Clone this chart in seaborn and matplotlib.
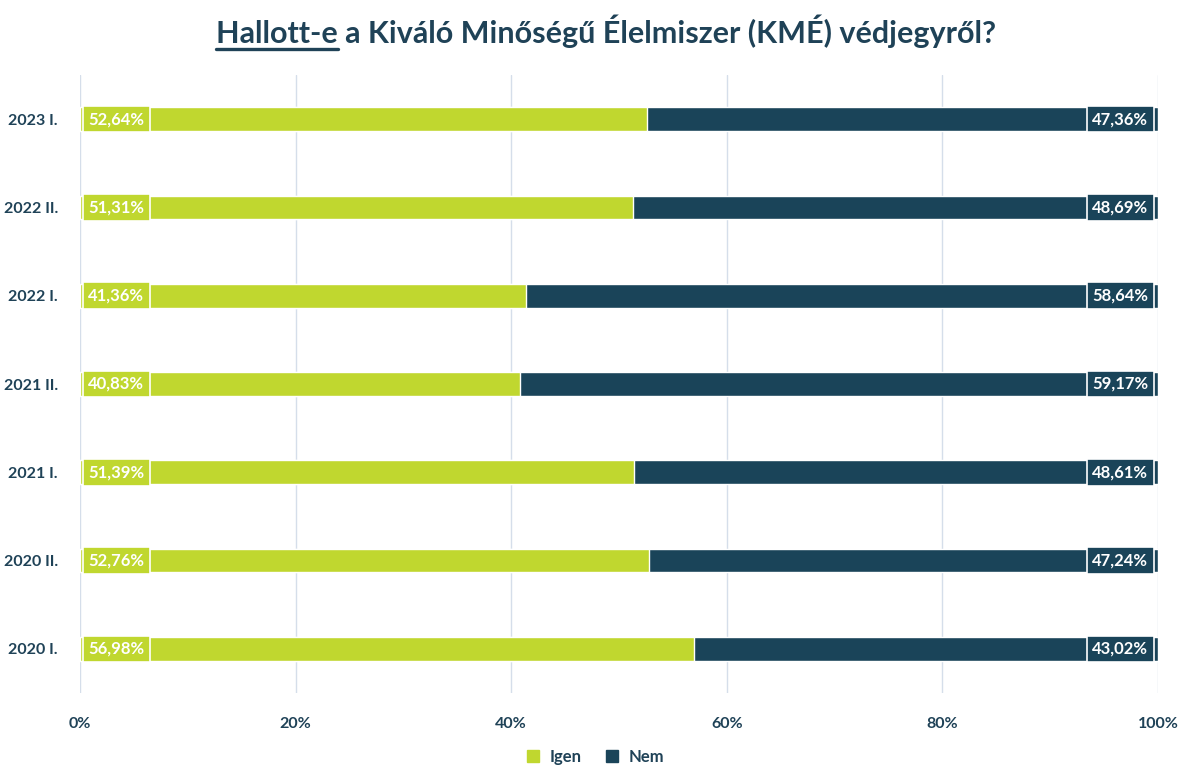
import matplotlib
matplotlib.use("Agg")
import matplotlib.pyplot as plt
import seaborn as sns
import pandas as pd
from matplotlib.lines import Line2D

categories = ["2023 I.", "2022 II.", "2022 I.", "2021 II.", "2021 I.", "2020 II.", "2020 I."]
igen = [52.64, 51.31, 41.36, 40.83, 51.39, 52.76, 56.98]
nem = [47.36, 48.69, 58.64, 59.17, 48.61, 47.24, 43.02]
xticks = [0, 20, 40, 60, 80, 100]
title_underlined = "Hallott-e"
title_rest = " a Kiváló Minőségű Élelmiszer (KMÉ) védjegyről?"

GREEN = "#C0D72F"
NAVY = "#1A4459"
TXT = "#1F4257"

sns.set_theme(style="white")
plt.rcParams["font.family"] = ["Lato", "DejaVu Sans"]

df = pd.DataFrame({"cat": categories, "igen": igen, "nem": nem})
df["total"] = df["igen"] + df["nem"]

fig = plt.figure(figsize=(11.81, 7.67), dpi=100)
ax = fig.add_axes([80/1181, 1-693/767, (1158-80)/1181, (693-75)/767])

sns.barplot(data=df, x="total", y="cat", color=NAVY, width=0.27, ax=ax, saturation=1, orient="h")
sns.barplot(data=df, x="igen", y="cat", color=GREEN, width=0.27, ax=ax, saturation=1, orient="h")

ax.set_xlim(0, 100)
ax.set_ylim(len(categories) - 0.5, -0.5)
ax.set_xticks(xticks)
ax.set_xticklabels([f"{v}%" for v in xticks], fontsize=11.5, fontweight="bold", color=TXT)
ax.set_yticks(range(len(categories)))
ax.set_yticklabels(categories, fontsize=11.5, fontweight="bold", color=TXT)
ax.tick_params(axis="x", length=0, pad=17)
ax.tick_params(axis="y", length=0, pad=16)
ax.set_xlabel("")
ax.set_ylabel("")
for s in ax.spines.values():
    s.set_visible(False)
ax.xaxis.grid(True, color="#D5DEEA", linewidth=1)
ax.set_axisbelow(True)

for i, (g, n) in enumerate(zip(igen, nem)):
    ax.annotate(f"{g:.2f}%".replace(".", ","), xy=(0, i), xytext=(6, 0), textcoords="offset points",
                ha="left", va="center", fontsize=12, fontweight="bold", color="white",
                bbox=dict(boxstyle="square,pad=0.32", fc=GREEN, ec="white", lw=1.2))
    ax.annotate(f"{n:.2f}%".replace(".", ","), xy=(100, i), xytext=(-7, 0), textcoords="offset points",
                ha="right", va="center", fontsize=12, fontweight="bold", color="white",
                bbox=dict(boxstyle="square,pad=0.32", fc=NAVY, ec="white", lw=1.2))

handles = [Line2D([], [], marker="s", linestyle="", markersize=9, color=GREEN, label="Igen"),
           Line2D([], [], marker="s", linestyle="", markersize=9, color=NAVY, label="Nem")]
leg = fig.legend(handles=handles, loc="center", bbox_to_anchor=(0.5, 1-757/767), ncol=2, frameon=False,
                 handletextpad=0.0, columnspacing=0.8, prop={"weight": "bold", "size": 12})
for t in leg.get_texts():
    t.set_color(TXT)

# Title with underlined first word
tx = 606/1181
full = fig.text(tx, 1-31/767, title_underlined + title_rest, ha="center", va="center",
                fontsize=22, fontweight="bold", color=TXT)
fig.canvas.draw()
r = fig.canvas.get_renderer()
bb = full.get_window_extent(r)
part = fig.text(bb.x0 / fig.bbox.width, 1-31/767, title_underlined, ha="left", va="center",
                fontsize=22, fontweight="bold", color=TXT, alpha=0)
pb = part.get_window_extent(r)
yline = (bb.y0 - 1) / fig.bbox.height
fig.add_artist(Line2D([pb.x0 / fig.bbox.width, pb.x1 / fig.bbox.width], [yline, yline],
                      color=TXT, linewidth=2.4, transform=fig.transFigure))

fig.savefig("out.png", dpi=100)
